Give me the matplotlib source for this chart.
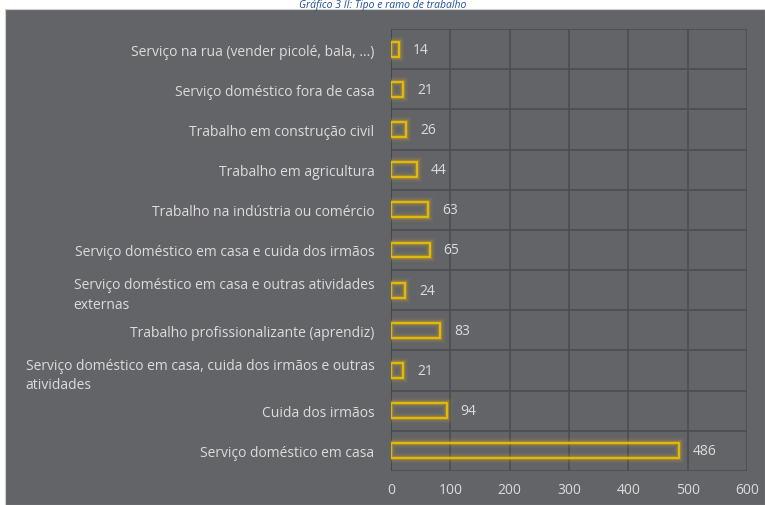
import matplotlib.pyplot as plt
import matplotlib.patheffects as pe
from matplotlib.patches import Rectangle

plt.rcParams['font.family'] = ['Open Sans', 'DejaVu Sans']

categorias = [
    "Serviço na rua (vender picolé, bala, ...)",
    "Serviço doméstico fora de casa",
    "Trabalho em construção civil",
    "Trabalho em agricultura",
    "Trabalho na indústria ou comércio",
    "Serviço doméstico em casa e cuida dos irmãos",
    "Serviço doméstico em casa e outras atividades\nexternas",
    "Trabalho profissionalizante (aprendiz)",
    "Serviço doméstico em casa, cuida dos irmãos e outras\natividades",
    "Cuida dos irmãos",
    "Serviço doméstico em casa",
]
valores = [14, 21, 26, 44, 63, 65, 24, 83, 21, 94, 486]
xticks = [0, 100, 200, 300, 400, 500, 600]

bg = '#636468'
texto = '#dcdcdc'
amarelo = '#f2c200'
grade = '#4b4b4d'

fig = plt.figure(figsize=(7.65, 5.06), dpi=100)
fig.patch.set_facecolor('white')
fundo = Rectangle((5 / 765, 0), 1 - 5 / 765, 496 / 506,
                  transform=fig.transFigure, facecolor=bg,
                  edgecolor='#d0d0d0', linewidth=0.8, zorder=-5)
fig.patches.append(fundo)

ax = fig.add_axes([391 / 765, 34 / 506, (747 - 391) / 765, (476 - 34) / 506])
ax.set_facecolor(bg)

n = len(categorias)
pos = list(range(n - 1, -1, -1))

barras = ax.barh(pos, valores, height=0.37, facecolor='none',
                 edgecolor=amarelo, linewidth=1.2, zorder=3)
for b in barras:
    b.set_path_effects([
        pe.Stroke(linewidth=7, foreground=amarelo, alpha=0.07),
        pe.Stroke(linewidth=4.5, foreground=amarelo, alpha=0.12),
        pe.Stroke(linewidth=2.8, foreground=amarelo, alpha=0.25),
        pe.Normal(),
    ])

for p, v in zip(pos, valores):
    ax.annotate(str(v), (v, p), xytext=(10, 0), textcoords='offset points',
                va='center', ha='left', color=texto, fontsize=10, zorder=4)

ax.set_xlim(0, 600)
ax.set_ylim(-0.5, n - 0.5)
ax.set_xticks(xticks)
ax.set_yticks(pos)
ax.set_yticklabels(categorias, multialignment='left', linespacing=1.45)
ax.set_yticks([i - 0.5 for i in range(n + 1)], minor=True)

ax.grid(axis='x', color=grade, linewidth=1.1, zorder=1)
ax.grid(axis='y', which='minor', color=grade, linewidth=1.1, zorder=1)
ax.set_axisbelow(True)
ax.tick_params(axis='both', which='both', length=0, colors=texto, labelsize=10)
ax.tick_params(axis='x', pad=8)
ax.tick_params(axis='y', pad=12)
for s in ax.spines.values():
    s.set_visible(False)
ax.axvline(0, color='#444446', linewidth=1.2, zorder=2)

fig.text(383 / 765, 1.0, "Gráfico 3 II: Tipo e ramo de trabalho",
         ha='center', va='top', color='#1f4e9c', style='italic', fontsize=7.5)

fig.savefig('out.png', dpi=100, facecolor='white')
